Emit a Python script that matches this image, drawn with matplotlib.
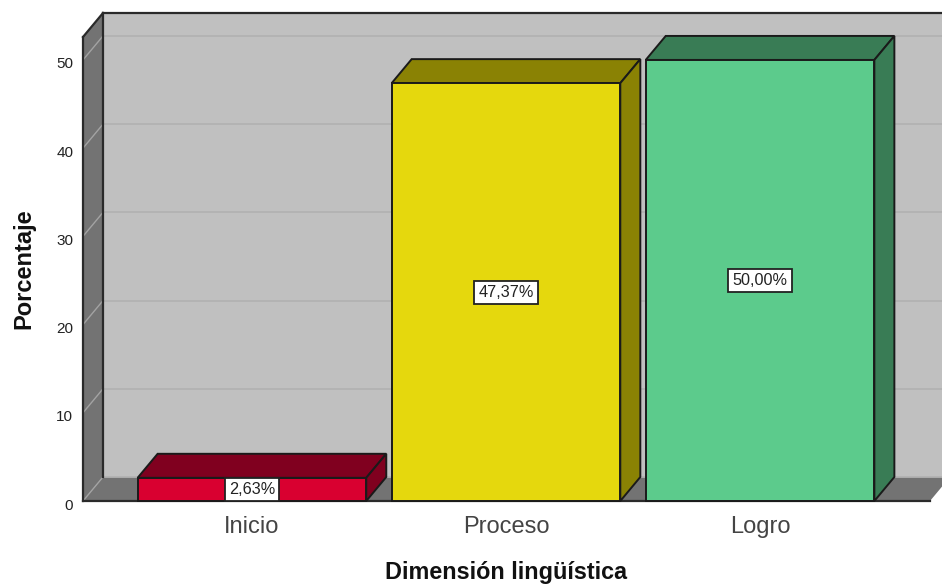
import matplotlib
matplotlib.use('Agg')
import matplotlib.pyplot as plt
from matplotlib.patches import Polygon
from matplotlib.transforms import ScaledTranslation

categories = ['Inicio', 'Proceso', 'Logro']
porcentaje = [2.63, 47.37, 50.00]
etiquetas = ['2,63%', '47,37%', '50,00%']
yticks = [0, 10, 20, 30, 40, 50]

colores = ['#d90030', '#e5d80d', '#5ccb8c']
oscuros = ['#80001f', '#8a8204', '#397c55']

plt.rcParams['font.family'] = ['Liberation Sans', 'DejaVu Sans']

W, H = 942, 585
fig = plt.figure(figsize=(W / 100, H / 100), dpi=100)
ax = fig.add_axes([83 / W, (H - 501) / H, (930 - 83) / W, (501 - 37) / H])

xl, xr = -0.665, 2.669
top = 52.6
ax.set_xlim(xl, xr)
ax.set_ylim(0, top)
ax.patch.set_visible(False)
for s in ax.spines.values():
    s.set_visible(False)

# profundidad del efecto 3D, en unidades de datos
dx = 20 / 254
dy = 24 / (464 / top)
ancho = 0.9


def poly(pts, color, ec='none', lw=0, z=1):
    ax.add_patch(Polygon(pts, closed=True, fc=color, ec=ec, lw=lw, zorder=z, clip_on=False))


# paredes
poly([(xl + dx, dy), (xr + dx, dy), (xr + dx, top + dy), (xl + dx, top + dy)], '#c0c0c0')
poly([(xl, 0), (xl + dx, dy), (xl + dx, top + dy), (xl, top)], '#737373')
poly([(xl, 0), (xr, 0), (xr + dx, dy), (xl + dx, dy)], '#737373')

for t in yticks:
    ax.plot([xl + dx, xr + dx], [t + dy, t + dy], color='#b2b2b2', lw=1.3, zorder=2, clip_on=False)
    ax.plot([xl, xl + dx], [t, t + dy], color='#a3a3a3', lw=1, zorder=2, clip_on=False)

negro = dict(color='#2a2a2a', lw=1.6, zorder=3, clip_on=False)
ax.plot([xl + dx, xr + dx], [top + dy, top + dy], **negro)
ax.plot([xl, xl + dx], [top, top + dy], **negro)
ax.plot([xl, xl], [0, top], **negro)
ax.plot([xl + dx, xl + dx], [dy, top + dy], **negro)
ax.plot([xl, xr], [0, 0], **negro)

# barras
for i, v in enumerate(porcentaje):
    x0, x1 = i - ancho / 2, i + ancho / 2
    borde = dict(ec='#1a1a1a', lw=1.4, z=5)
    poly([(x0, v), (x1, v), (x1 + dx, v + dy), (x0 + dx, v + dy)], oscuros[i], **borde)
    poly([(x1, 0), (x1 + dx, dy), (x1 + dx, v + dy), (x1, v)], oscuros[i], **borde)
    poly([(x0, 0), (x1, 0), (x1, v), (x0, v)], colores[i], **borde)
    ax.text(i, v / 2, etiquetas[i], ha='center', va='center', fontsize=11.7, color='#222222', zorder=7,
            bbox=dict(boxstyle='square,pad=0.25', fc='white', ec='#222222', lw=1.3))

ax.set_xticks(range(len(categories)))
ax.set_xticklabels(categories, fontsize=17, color='#444444')
ax.set_yticks(yticks)
ax.tick_params(axis='y', length=0, pad=7, labelsize=11, labelcolor='#222222')
ax.tick_params(axis='x', length=0, pad=11)

# las etiquetas del eje y quedan un poco por debajo de la linea
bajar = ScaledTranslation(0, -3 / 100, fig.dpi_scale_trans)
for lab in ax.get_yticklabels():
    lab.set_transform(lab.get_transform() + bajar)

fig.text(506 / W, 1 - 572 / H, 'Dimensión lingüística', ha='center', va='center',
         fontsize=16.8, fontweight='bold', color='#111111')
fig.text(24 / W, 1 - 269 / H, 'Porcentaje', ha='center', va='center', rotation=90,
         fontsize=17, fontweight='bold', color='#111111')

fig.savefig('out.png', dpi=100, facecolor='white')
